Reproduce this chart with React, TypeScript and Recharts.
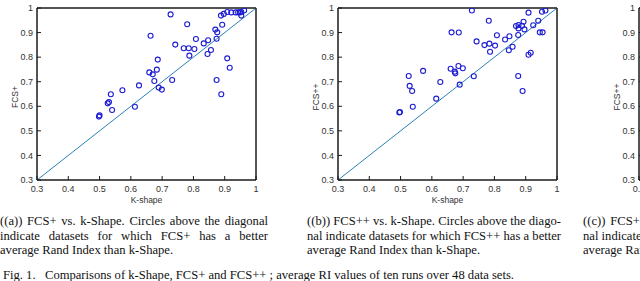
import React from 'react';
import { ScatterChart, Scatter, XAxis, YAxis, ReferenceLine, ReferenceArea } from 'recharts';

const axisTicks = [0.3, 0.4, 0.5, 0.6, 0.7, 0.8, 0.9, 1];
const xAxisLabel = 'K-shape';

// Panel (a): FCS+ vs k-Shape
const kShapeA = [0.498, 0.5, 0.526, 0.53, 0.536, 0.54, 0.573, 0.613, 0.626, 0.663, 0.659, 0.67, 0.675, 0.683, 0.686, 0.689, 0.699, 0.727, 0.732, 0.742, 0.769, 0.78, 0.785, 0.787, 0.803, 0.808, 0.833, 0.847, 0.845, 0.856, 0.87, 0.876, 0.874, 0.874, 0.889, 0.888, 0.897, 0.892, 0.908, 0.916, 0.908, 0.921, 0.935, 0.943, 0.949, 0.953, 0.953, 0.962];
const fcsPlus = [0.558, 0.563, 0.612, 0.617, 0.649, 0.585, 0.665, 0.598, 0.685, 0.887, 0.738, 0.73, 0.703, 0.749, 0.79, 0.676, 0.668, 0.974, 0.707, 0.851, 0.836, 0.934, 0.836, 0.806, 0.833, 0.874, 0.856, 0.869, 0.813, 0.829, 0.912, 0.901, 0.875, 0.707, 0.649, 0.969, 0.976, 0.932, 0.795, 0.757, 0.984, 0.982, 0.982, 0.982, 0.982, 0.984, 0.969, 0.99];

// Panel (b): FCS++ vs k-Shape
const kShapeB = [0.496, 0.498, 0.526, 0.529, 0.537, 0.539, 0.572, 0.614, 0.627, 0.663, 0.66, 0.673, 0.675, 0.685, 0.686, 0.689, 0.699, 0.728, 0.734, 0.743, 0.768, 0.782, 0.784, 0.786, 0.802, 0.808, 0.834, 0.848, 0.846, 0.858, 0.876, 0.89, 0.869, 0.877, 0.877, 0.876, 0.893, 0.888, 0.896, 0.909, 0.909, 0.916, 0.924, 0.94, 0.945, 0.954, 0.952, 0.963];
const fcsPlusPlus = [0.575, 0.577, 0.723, 0.683, 0.662, 0.598, 0.744, 0.631, 0.699, 0.901, 0.753, 0.741, 0.734, 0.764, 0.9, 0.688, 0.755, 0.99, 0.722, 0.864, 0.849, 0.948, 0.855, 0.822, 0.847, 0.889, 0.872, 0.885, 0.828, 0.842, 0.723, 0.662, 0.927, 0.931, 0.917, 0.89, 0.944, 0.928, 0.913, 0.981, 0.81, 0.818, 0.93, 0.948, 0.901, 0.901, 0.985, 0.99];

const captionA = [
  '((a)) FCS+ vs. k-Shape. Circles above the diagonal',
  'indicate datasets for which FCS+ has a better',
  'average Rand Index than k-Shape.',
];
const captionB = [
  '((b)) FCS++ vs. k-Shape. Circles above the diago-',
  'nal indicate datasets for which FCS++ has a better',
  'average Rand Index than k-Shape.',
];
const captionC = [
  '((c)) FCS++ vs. FCS+. Circles above the diago-',
  'nal indicate datasets for which FCS++ has a better',
  'average Rand Index than FCS+.',
];
const figCaption = 'Fig. 1.\u00a0\u00a0 Comparisons of k-Shape, FCS+ and FCS++ ; average RI values of ten runs over 48 data sets.';

const toPoints = (xs: number[], ys: number[]) => xs.map((x, i) => ({ x, y: ys[i] }));

const AXIS = '#1a1a1a';
const TICK_TEXT = '#333';
const SANS = '"Liberation Sans", Arial, sans-serif';
const SERIF = '"Liberation Serif", "Times New Roman", serif';

const Marker = (props: any) => {
  const { cx, cy } = props;
  if (cx == null || cy == null) return null;
  return <circle cx={cx} cy={cy} r={2.5} fill="none" stroke="#1c1cd2" strokeWidth={1.1} />;
};

function Panel({ left, points, yLabel }: { left: number; points: { x: number; y: number }[]; yLabel: string }) {
  return (
    <div style={{ position: 'absolute', left, top: 0 }}>
      <ScatterChart width={270} height={215} margin={{ top: 7, right: 13, bottom: 5, left: 7 }}>
        <XAxis
          xAxisId="b"
          type="number"
          dataKey="x"
          domain={[0.3, 1]}
          ticks={axisTicks}
          interval={0}
          allowDataOverflow
          orientation="bottom"
          height={30}
          tickSize={-4}
          tickMargin={10}
          axisLine={{ stroke: AXIS }}
          tickLine={{ stroke: AXIS }}
          tick={{ fontSize: 9, fill: TICK_TEXT, fontFamily: SANS }}
          label={{
            content: (p: any) => {
              const vb = p.viewBox || { x: 37, y: 180, width: 219 };
              return (
                <text x={vb.x + vb.width / 2} y={vb.y + 23} textAnchor="middle" fontSize={8.5} fill={TICK_TEXT} fontFamily={SANS}>
                  {xAxisLabel}
                </text>
              );
            },
          }}
        />
        <XAxis
          xAxisId="t"
          type="number"
          dataKey="x"
          domain={[0.3, 1]}
          ticks={axisTicks}
          interval={0}
          allowDataOverflow
          orientation="top"
          height={1}
          tickSize={-4}
          tick={false}
          axisLine={{ stroke: AXIS }}
          tickLine={{ stroke: AXIS }}
        />
        <YAxis
          yAxisId="l"
          type="number"
          dataKey="y"
          domain={[0.3, 1]}
          ticks={axisTicks}
          interval={0}
          allowDataOverflow
          width={30}
          tickSize={-4}
          tickMargin={8}
          axisLine={{ stroke: AXIS }}
          tickLine={{ stroke: AXIS }}
          tick={{ fontSize: 9, fill: TICK_TEXT, fontFamily: SANS }}
          label={{
            content: (p: any) => {
              const vb = p.viewBox || { x: 7, y: 8, width: 30, height: 172 };
              const cx = vb.x + vb.width - 22;
              const cy = vb.y + vb.height / 2 + 3;
              return (
                <text x={cx} y={cy} transform={`rotate(-90 ${cx} ${cy})`} textAnchor="middle" dominantBaseline="central" fontSize={8.5} fill={TICK_TEXT} fontFamily={SANS}>
                  {yLabel}
                </text>
              );
            },
          }}
        />
        <YAxis
          yAxisId="r"
          type="number"
          dataKey="y"
          domain={[0.3, 1]}
          ticks={axisTicks}
          interval={0}
          allowDataOverflow
          orientation="right"
          width={1}
          tickSize={-4}
          tick={false}
          axisLine={{ stroke: AXIS }}
          tickLine={{ stroke: AXIS }}
        />
        <ReferenceArea
          xAxisId="b"
          yAxisId="l"
          x1={0.3}
          x2={1}
          y1={0.3}
          y2={1}
          fill="none"
          fillOpacity={0}
          stroke={AXIS}
          strokeWidth={1}
          ifOverflow="visible"
        />
        <ReferenceLine
          xAxisId="b"
          yAxisId="l"
          segment={[{ x: 0.3, y: 0.3 }, { x: 1, y: 1 }]}
          stroke="#2b80b8"
          strokeWidth={1}
          ifOverflow="visible"
        />
        <Scatter xAxisId="b" yAxisId="l" data={points} shape={Marker} isAnimationActive={false} />
      </ScatterChart>
    </div>
  );
}

const lineTops = [214, 228.5, 243];

function Caption({ left, width, lines }: { left: number; width: number; lines: string[] }) {
  return (
    <>
      {lines.map((t, i) => (
        <div
          key={i}
          style={{
            position: 'absolute',
            left,
            top: lineTops[i],
            width,
            whiteSpace: 'nowrap',
            textAlign: i < 2 ? 'justify' : 'left',
            textAlignLast: i < 2 ? 'justify' : 'left',
            fontFamily: SERIF,
            fontSize: 12.6,
            lineHeight: '15px',
            color: '#111',
          } as React.CSSProperties}
        >
          {t}
        </div>
      ))}
    </>
  );
}

export default function App() {
  return (
    <div style={{ position: 'absolute', left: 0, top: 0, width: 640, height: 281, overflow: 'hidden', background: '#fff' }}>
      <Panel left={0} points={toPoints(kShapeA, fcsPlus)} yLabel="FCS+" />
      <Panel left={301} points={toPoints(kShapeB, fcsPlusPlus)} yLabel="FCS++" />
      <Panel left={602} points={[]} yLabel="FCS++" />
      <Caption left={0} width={268} lines={captionA} />
      <Caption left={307} width={254} lines={captionB} />
      <Caption left={583} width={254} lines={captionC} />
      <div
        style={{
          position: 'absolute',
          left: 3,
          top: 268,
          whiteSpace: 'nowrap',
          fontFamily: SERIF,
          fontSize: 12.6,
          lineHeight: '15px',
          color: '#111',
        }}
      >
        {figCaption}
      </div>
    </div>
  );
}
